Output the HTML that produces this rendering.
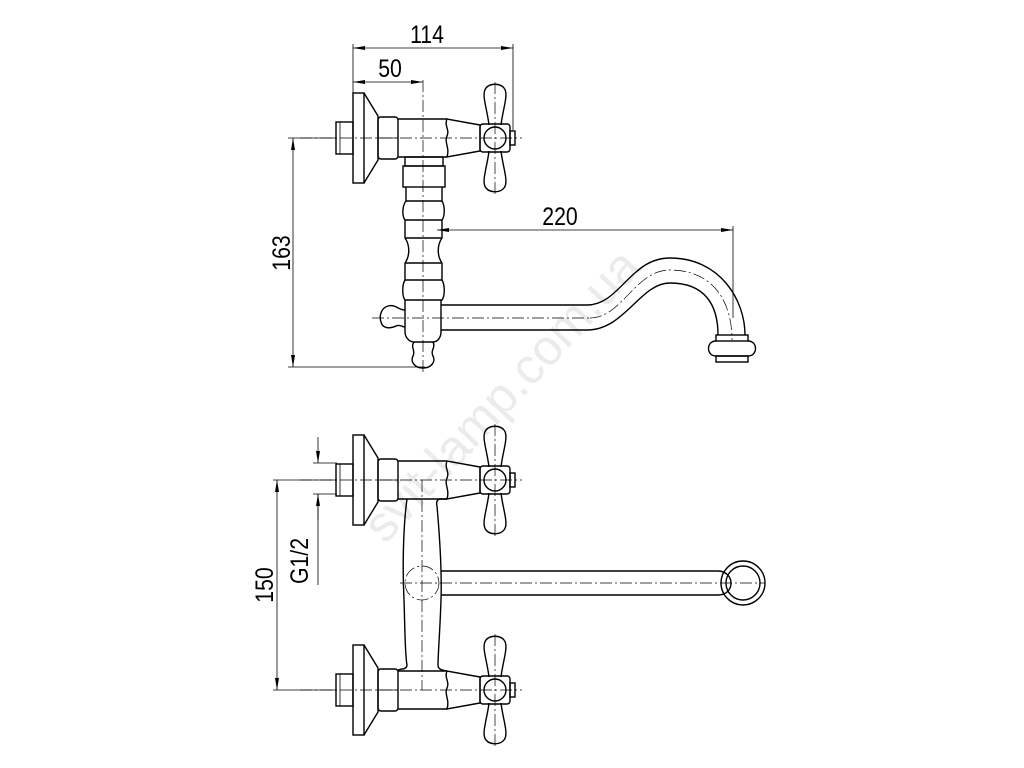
<!DOCTYPE html>
<html><head><meta charset="utf-8"><style>
html,body{margin:0;padding:0;background:#fff;}
svg{display:block}
text{font-family:"Liberation Sans",sans-serif;fill:#000}
</style></head><body>
<svg width="1024" height="768" viewBox="0 0 1024 768" xmlns="http://www.w3.org/2000/svg">
<defs>
<marker id="ar" viewBox="0 0 12 6" refX="12" refY="3" markerWidth="12" markerHeight="6" orient="auto-start-reverse" markerUnits="userSpaceOnUse">
<path d="M0,1 L12,3 L0,5 Z" fill="#000"/>
</marker>
<g id="valve" fill="none" stroke="#000" stroke-width="1.4">
<rect x="336" y="-16" width="17" height="32"/>
<line x1="340" y1="-16" x2="340" y2="16" stroke-width="0.8"/>
<rect x="353" y="-45" width="11" height="90"/>
<path d="M364,-45 L378,-22 L378,22 L364,45"/>
<rect x="378" y="-21" width="20" height="42" rx="3"/>
<line x1="378" y1="0" x2="398" y2="0" stroke-width="0.8"/>
<path d="M398,-19 L447,-19 M398,19 L447,19"/>
<path d="M447,-19 C444,-12 450,-8 447,-2 C444,4 450,10 447,19 L480,13 L480,-13 Z"/>
<rect x="480" y="-14" width="30" height="28" rx="3"/>
<rect x="510" y="-7" width="5" height="14"/>
<circle cx="495" cy="0" r="11"/>
<path d="M489,-13 C487,-30 481,-44 486,-50 C490,-55 500,-55 504,-50 C509,-44 503,-30 501,-13"/>
<path d="M489,13 C487,30 481,44 486,50 C490,55 500,55 504,50 C509,44 503,30 501,13"/>
<g stroke-width="0.7" stroke-dasharray="12,3,2,3">
<line x1="300" y1="0" x2="522" y2="0"/>
<line x1="495" y1="-56" x2="495" y2="56"/>
</g>
</g>
</defs>

<text x="0" y="0" transform="translate(385,545) rotate(-47)" font-size="50" style="fill:#ebebeb">svit-lamp.com.ua</text>

<g fill="none" stroke="#000" stroke-width="0.8">
<line x1="353" y1="44" x2="353" y2="94"/>
<line x1="513" y1="44" x2="513" y2="130"/>
<line x1="353" y1="48" x2="513" y2="48" marker-start="url(#ar)" marker-end="url(#ar)"/>
<line x1="353" y1="82" x2="423" y2="82" marker-start="url(#ar)" marker-end="url(#ar)"/>
<line x1="288" y1="138" x2="336" y2="138"/>
<line x1="288" y1="367" x2="425" y2="367"/>
<line x1="293" y1="138" x2="293" y2="367" marker-start="url(#ar)" marker-end="url(#ar)"/>
<line x1="733" y1="226" x2="733" y2="318"/>
<line x1="437" y1="230" x2="733" y2="230" marker-start="url(#ar)" marker-end="url(#ar)"/>
<line x1="313" y1="463" x2="337" y2="463"/>
<line x1="313" y1="494" x2="337" y2="494"/>
<line x1="318" y1="437" x2="318" y2="463" marker-end="url(#ar)"/>
<line x1="318" y1="520" x2="318" y2="494" marker-end="url(#ar)"/>
<line x1="318" y1="494" x2="318" y2="585"/>
<line x1="273" y1="480" x2="337" y2="480"/>
<line x1="273" y1="690" x2="337" y2="690"/>
<line x1="277" y1="480" x2="277" y2="690" marker-start="url(#ar)" marker-end="url(#ar)"/>
</g>
<g font-size="25">
<text transform="translate(427,43) scale(0.85,1)" text-anchor="middle">114</text>
<text transform="translate(390,77) scale(0.85,1)" text-anchor="middle">50</text>
<text transform="translate(560,225) scale(0.85,1)" text-anchor="middle">220</text>
<text transform="translate(290,253) rotate(-90) scale(0.85,1)" text-anchor="middle">163</text>
<text transform="translate(273,585) rotate(-90) scale(0.85,1)" text-anchor="middle">150</text>
<text transform="translate(308,561) rotate(-90) scale(0.85,1)" text-anchor="middle">G1/2</text>
</g>

<use href="#valve" transform="translate(0,138)"/>
<g fill="none" stroke="#000" stroke-width="1.4">
<rect x="405" y="157" width="38" height="9"/>
<rect x="403" y="166" width="42" height="21"/>
<path d="M406,187 L406,201 C402,206 402,216 405,220 L405,238 C410,245 410,256 405,263 L405,280 C402,285 402,296 405,300 L442,300 C445,296 445,285 442,280 L442,263 C437,256 437,245 442,238 L442,220 C445,216 445,206 442,201 L442,187"/>
<line x1="406" y1="201" x2="442" y2="201"/><line x1="405" y1="220" x2="442" y2="220"/>
<line x1="405" y1="238" x2="442" y2="238"/><line x1="405" y1="263" x2="442" y2="263"/>
<line x1="405" y1="280" x2="442" y2="280"/>
<path d="M405,300 L405,332 C405,338 410,342 414,342 L433,342 C437,342 441,338 441,332 L441,300"/>
<path d="M414,342 C410,348 416,350 413,356 C410,362 415,368 423,368 C431,368 436,362 433,356 C430,350 436,348 433,342"/>
<path d="M405,310 C398,310 396,304 388,306 C381,308 379,316 381,322 C383,330 392,328 396,326 C400,324 402,327 405,327"/>
<path d="M441,305 L587,305 C620,305 630,258 670,258 C720,258 745,300 745,335"/>
<path d="M441,330 L587,330 C625,330 640,283 670,283 C705,283 718,305 718,335"/>
<rect x="716" y="335" width="32" height="6"/>
<path d="M716,341 C706,341 706,356 716,356 L748,356 C758,356 758,341 748,341"/>
<rect x="716" y="356" width="32" height="6"/>
</g>
<g fill="none" stroke="#000" stroke-width="0.7" stroke-dasharray="12,3,2,3">
<line x1="423" y1="80" x2="423" y2="372"/>
<line x1="372" y1="318" x2="590" y2="318"/>
<path d="M590,318 C622,318 635,270 670,270 C712,270 732,300 732,340"/>
</g>

<use href="#valve" transform="translate(0,480)"/>
<use href="#valve" transform="translate(0,690)"/>
<g fill="none" stroke="#000" stroke-width="1.4">
<path d="M407,499 C404,520 402,560 404,600 C405,630 405,655 407,665 C407,668 404,669 402,669 L398,670"/>
<path d="M447,499 L441,499 C437,499 436,502 437,506 C440,540 442,570 441,600 C440,630 438,655 438,665 C438,669 441,670 447,671"/>
<line x1="441" y1="571" x2="718" y2="571"/>
<line x1="441" y1="595" x2="718" y2="595"/>
<path d="M718,571 C726,571 731,577 731,583 C731,590 726,595 718,595"/>
<circle cx="743" cy="583" r="22"/>
<circle cx="743" cy="583" r="17"/>
</g>
<g fill="none" stroke="#000" stroke-width="0.7" stroke-dasharray="12,3,2,3">
<line x1="422" y1="480" x2="422" y2="690"/>
<line x1="400" y1="583" x2="765" y2="583"/>
<circle cx="422" cy="583" r="17"/>
</g>
</svg>
</body></html>
